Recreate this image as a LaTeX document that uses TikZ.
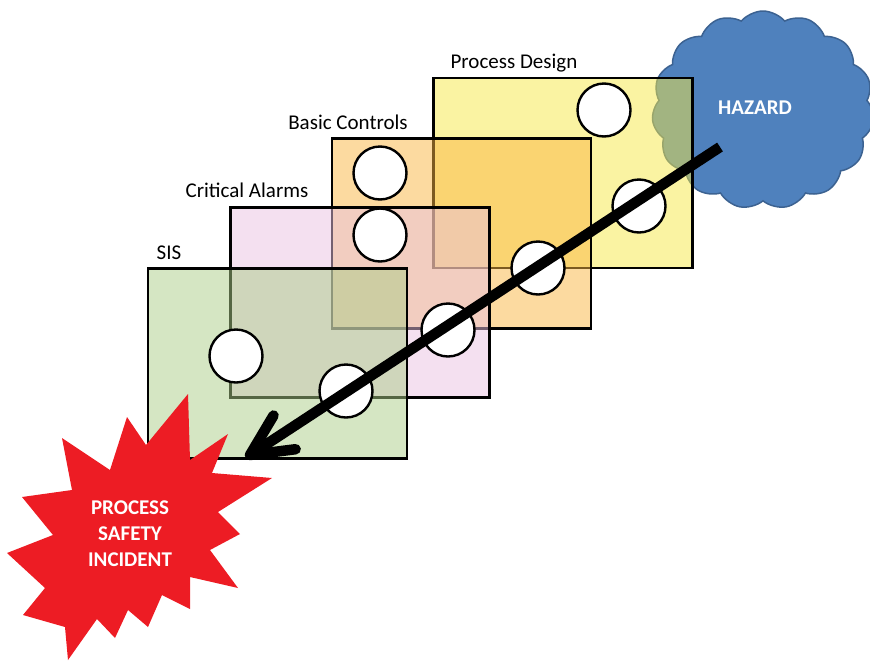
\documentclass[tikz,border=0pt]{standalone}
\usepackage{fontspec}
\setmainfont{Carlito}
\usetikzlibrary{shapes.symbols,calc}
\definecolor{pdfill}{RGB}{246,232,70}
\definecolor{bcfill}{RGB}{249,181,65}
\definecolor{cafill}{RGB}{233,193,225}
\definecolor{sisfill}{RGB}{171,205,135}
\definecolor{hazblue}{RGB}{79,129,189}
\definecolor{hazedge}{RGB}{60,98,145}
\definecolor{boomred}{RGB}{237,28,36}
\tikzset{
  layer/.style={draw=black, line width=2.4pt, fill opacity=0.5, inner sep=0pt,
    minimum width=259pt, minimum height=190pt},
  hole/.style={circle, draw=black, fill=white, line width=2.4pt,
    minimum size=53pt, inner sep=0pt},
  layerlabel/.style={font=\fontsize{21}{25}\selectfont, anchor=base, inner sep=0pt},
  whitebold/.style={font=\fontsize{21}{26}\selectfont\bfseries, text=white, align=center, inner sep=0pt},
  arrowline/.style={draw=black, line width=10.5pt}
}
\begin{document}
\begin{tikzpicture}[x=1pt,y=-1pt]
\useasboundingbox (0,0) rectangle (870,662);
% hazard cloud
\node[cloud, cloud puffs=15, cloud puff arc=100, cloud ignores aspect,
  minimum width=222pt, minimum height=198pt, fill=hazblue, draw=hazedge,
  line width=1.5pt] (hazard) at (763,110) {};
\node[whitebold] (hazardtext) at (755,108) {HAZARD};
% layers
\node[layer, fill=pdfill] (pd) at (563,173) {};
\node[layer, fill=bcfill] (bc) at (461.5,233.5) {};
\node[layer, fill=cafill] (ca) at (360,302.5) {};
\node[layer, fill=sisfill] (sis) at (277.5,363.5) {};
% labels
\node[layerlabel] (pdlabel) at (514,68) {Process Design};
\node[layerlabel] (bclabel) at (348,129) {Basic Controls};
\node[layerlabel] (calabel) at (247,197) {Critical Alarms};
\node[layerlabel] (sislabel) at (169,259) {SIS};
% holes
\node[hole] (h1) at (604,110) {};
\node[hole] (h2) at (639,206) {};
\node[hole] (h3) at (380,173) {};
\node[hole] (h4) at (380,235) {};
\node[hole] (h5) at (538,268) {};
\node[hole] (h6) at (448,330) {};
\node[hole] (h7) at (236,356) {};
\node[hole] (h8) at (346,391) {};
% incident starburst
\fill[boomred] (7,553) -- (53,535) -- (22,497) -- (72,490) -- (62,438) -- (110,470)
  -- (127,417) -- (146,445) -- (188,394) -- (190,460) -- (228,434) -- (212,473)
  -- (272,478) -- (218,512) -- (240,534) -- (210,550) -- (238,588) -- (190,577)
  -- (190,609) -- (162,595) -- (148,627) -- (128,610) -- (115,638) -- (97,619)
  -- (68,660) -- (65,627) -- (23,615) -- (45,588) -- cycle;
\node[whitebold] (incident) at (130,534) {PROCESS\\SAFETY\\INCIDENT};
% arrow
\coordinate (hstart) at (720,147);
\coordinate (tipend) at (250,455);
\draw[arrowline] (hstart) -- (tipend);
\draw[arrowline, line cap=round, line join=round]
  ($(tipend)!46pt!26:(hstart)$) -- (tipend) -- ($(tipend)!46pt!-26:(hstart)$);
\end{tikzpicture}
\end{document}
